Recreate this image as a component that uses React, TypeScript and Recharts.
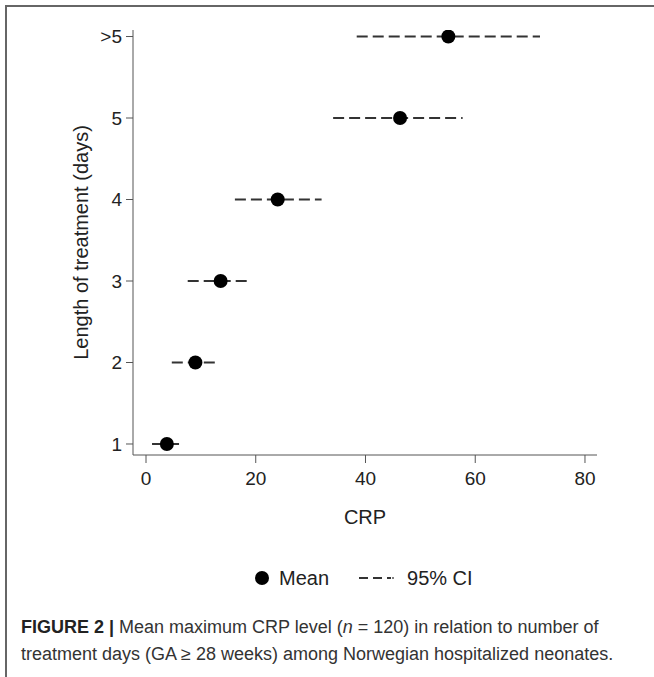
import React from "react";
import { ScatterChart, Scatter, XAxis, YAxis } from "recharts";

// length of treatment categories (plotted at 1..6)
const categories = ["1", "2", "3", "4", "5", ">5"];
const positions = [1, 2, 3, 4, 5, 6];
// mean max CRP and 95% CI per category
const meanCRP = [3.8, 9.0, 13.6, 24.0, 46.3, 55.1];
const ciLow = [1.1, 4.7, 7.6, 16.2, 34.1, 38.4];
const ciHigh = [6.2, 12.9, 18.9, 32.0, 57.7, 71.8];
const xTicks = [0, 20, 40, 60, 80];

const meanData = positions.map((y, i) => ({ x: meanCRP[i], y }));
const ciData = positions.map((y, i) => [
  { x: ciLow[i], y },
  { x: ciHigh[i], y },
]);

const font = "'Liberation Sans', Arial, sans-serif";

const Dot = (p: any) => <circle cx={p.cx} cy={p.cy} r={7} fill="#000" />;
const NoShape = () => <g />;

const App = () => {
  return (
    <div
      style={{
        position: "absolute",
        left: 0,
        top: 0,
        width: 654,
        height: 677,
        background: "#fff",
        fontFamily: font,
        overflow: "hidden",
      }}
    >
      <div style={{ position: "absolute", left: 5, top: 5, width: 649, height: 2, background: "#666" }} />
      <div style={{ position: "absolute", left: 5, top: 5, width: 2, height: 672, background: "#666" }} />

      <div style={{ position: "absolute", left: 0, top: 0 }}>
        <ScatterChart
          width={654}
          height={540}
          margin={{ top: 30, right: 57, bottom: 40, left: 73 }}
          style={{ fontFamily: font }}
        >
          <XAxis
            type="number"
            dataKey="x"
            domain={[-2.37, 82.19]}
            ticks={xTicks}
            allowDataOverflow
            height={45}
            tickSize={8}
            tickMargin={9}
            stroke="#555"
            tick={{ fill: "#222", fontSize: 19 }}
            label={{ value: "CRP", position: "bottom", offset: 10, fill: "#222", fontSize: 20 }}
          />
          <YAxis
            type="number"
            dataKey="y"
            domain={[0.865, 6.08]}
            ticks={positions}
            allowDataOverflow
            width={60}
            tickSize={7}
            tickMargin={4}
            stroke="#555"
            tickFormatter={(v: number) => categories[v - 1]}
            tick={{ fill: "#222", fontSize: 19 }}
            label={{
              value: "Length of treatment (days)",
              angle: -90,
              position: "insideLeft",
              offset: 8,
              fill: "#222",
              fontSize: 20,
              style: { textAnchor: "middle" },
            }}
          />
          {ciData.map((seg, i) => (
            <Scatter
              key={"ci" + i}
              data={seg}
              line={{ stroke: "#333", strokeWidth: 2, strokeDasharray: "11 5" }}
              shape={NoShape}
              legendType="none"
              isAnimationActive={false}
            />
          ))}
          <Scatter data={meanData} shape={Dot} isAnimationActive={false} />
        </ScatterChart>
      </div>

      {/* legend */}
      <div
        style={{
          position: "absolute",
          left: 251,
          top: 566,
          display: "flex",
          alignItems: "center",
          fontSize: 20,
          color: "#222",
        }}
      >
        <svg width={24} height={24}>
          <circle cx={11} cy={12} r={7} fill="#000" />
        </svg>
        <span style={{ marginLeft: 4 }}>Mean</span>
        <svg width={50} height={24} style={{ marginLeft: 26 }}>
          <line x1={4} y1={12} x2={36} y2={12} stroke="#333" strokeWidth={2} strokeDasharray="9 5" />
          <circle cx={38} cy={12} r={1} fill="#555" />
        </svg>
        <span style={{ marginLeft: 2 }}>95% CI</span>
      </div>

      {/* caption */}
      <div
        style={{
          position: "absolute",
          left: 21,
          top: 614,
          width: 630,
          fontSize: 18,
          lineHeight: "27px",
          color: "#333",
          whiteSpace: "nowrap",
        }}
      >
        <b style={{ color: "#222" }}>FIGURE 2 |</b> Mean maximum CRP level (<i>n</i> = 120) in relation to number of
        <br />
        treatment days (GA ≥ 28 weeks) among Norwegian hospitalized neonates.
      </div>
    </div>
  );
};

export default App;
